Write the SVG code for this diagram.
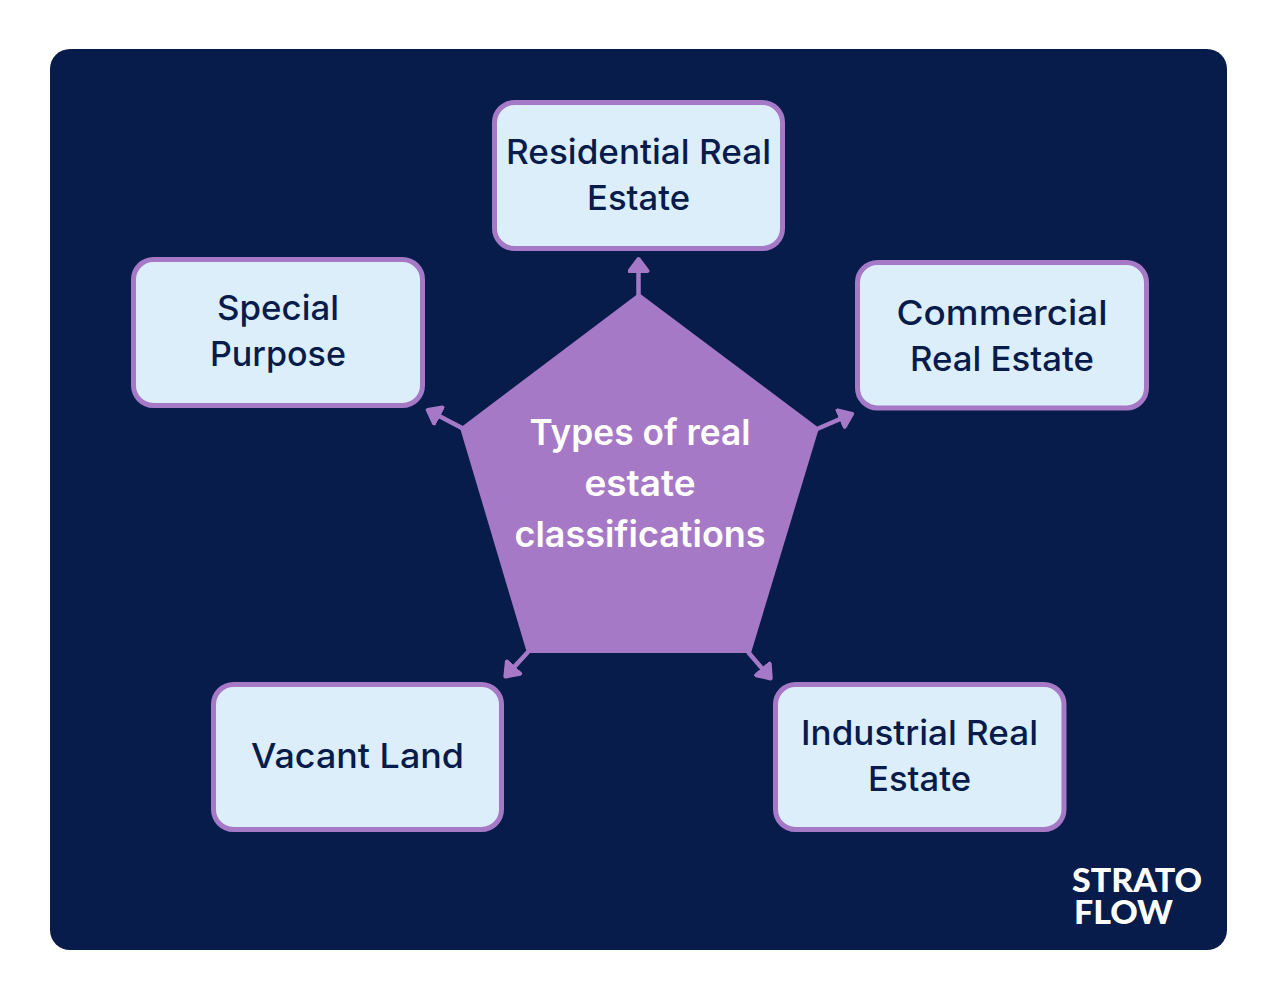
<svg xmlns="http://www.w3.org/2000/svg" width="1280" height="1000" viewBox="0 0 1280 1000">
<style>
.box{fill:#ddeefb;stroke:#a679c7;stroke-width:5}
.t{font-family:"Inter","Liberation Sans",sans-serif;font-size:34.5px;font-weight:500;fill:#071c4a;text-anchor:middle}
.c{font-family:"Inter","Liberation Sans",sans-serif;font-size:36px;font-weight:600;fill:#fff;text-anchor:middle}
.l{font-family:"Lato","Liberation Sans",sans-serif;font-size:33px;font-weight:900;fill:#fff}
.ln{stroke:#a679c7;stroke-width:4.500;fill:none;marker-end:url(#ah)}
</style>
<defs>
<marker id="ah" markerUnits="userSpaceOnUse" markerWidth="22" markerHeight="22" refX="6" refY="11" viewBox="0 0 22 22" orient="auto">
<path d="M2 2 L14 11 L2 20 Z" fill="#a679c7" stroke="#a679c7" stroke-width="4" stroke-linejoin="round"/>
</marker>
</defs>
<rect x="50" y="49" width="1177" height="901" rx="20" fill="#071c4a"/>
<g id="connectors">
<line class="ln" x1="638.500" y1="298" x2="638.500" y2="267"/>
<line class="ln" x1="462" y1="428" x2="434.800" y2="413.700"/>
<line class="ln" x1="817" y1="429" x2="844.800" y2="417"/>
<line class="ln" x1="528" y1="652" x2="510.800" y2="670.600"/>
<line class="ln" x1="748" y1="652" x2="765.500" y2="672.400"/>
</g>
<g id="center">
<polygon points="639,293 819,428 751,653 527,653 460,428" fill="#a679c7"/>
<text class="c" x="640" y="445" textLength="221" lengthAdjust="spacingAndGlyphs">Types of real</text>
<text class="c" x="640" y="496" textLength="111" lengthAdjust="spacingAndGlyphs">estate</text>
<text class="c" x="640" y="547" textLength="251" lengthAdjust="spacingAndGlyphs">classifications</text>
</g>
<g id="residential">
<rect class="box" x="494.500" y="102.500" width="288" height="146" rx="20"/>
<text class="t" x="638.500" y="164" textLength="265" lengthAdjust="spacingAndGlyphs">Residential Real</text>
<text class="t" x="638.500" y="210" textLength="103" lengthAdjust="spacingAndGlyphs">Estate</text>
</g>
<g id="special">
<rect class="box" x="133.500" y="259.500" width="289" height="146" rx="20"/>
<text class="t" x="278" y="320" textLength="122" lengthAdjust="spacingAndGlyphs">Special</text>
<text class="t" x="278" y="366" textLength="136" lengthAdjust="spacingAndGlyphs">Purpose</text>
</g>
<g id="commercial">
<rect class="box" x="857.500" y="262.500" width="289" height="145.500" rx="20"/>
<text class="t" x="1002" y="325" textLength="211" lengthAdjust="spacingAndGlyphs">Commercial</text>
<text class="t" x="1002" y="371" textLength="184" lengthAdjust="spacingAndGlyphs">Real Estate</text>
</g>
<g id="vacant">
<rect class="box" x="213.500" y="684.500" width="288" height="145" rx="20"/>
<text class="t" x="357.500" y="767.500" textLength="213" lengthAdjust="spacingAndGlyphs">Vacant Land</text>
</g>
<g id="industrial">
<rect class="box" x="775.500" y="684.500" width="288.500" height="145" rx="20"/>
<text class="t" x="919.500" y="745" textLength="237" lengthAdjust="spacingAndGlyphs">Industrial Real</text>
<text class="t" x="919.500" y="791" textLength="103" lengthAdjust="spacingAndGlyphs">Estate</text>
</g>
<g id="logo">
<text class="l" x="1072" y="892" textLength="130" lengthAdjust="spacingAndGlyphs">STRATO</text>
<text class="l" x="1074" y="924" textLength="99" lengthAdjust="spacingAndGlyphs">FLOW</text>
</g>
</svg>
